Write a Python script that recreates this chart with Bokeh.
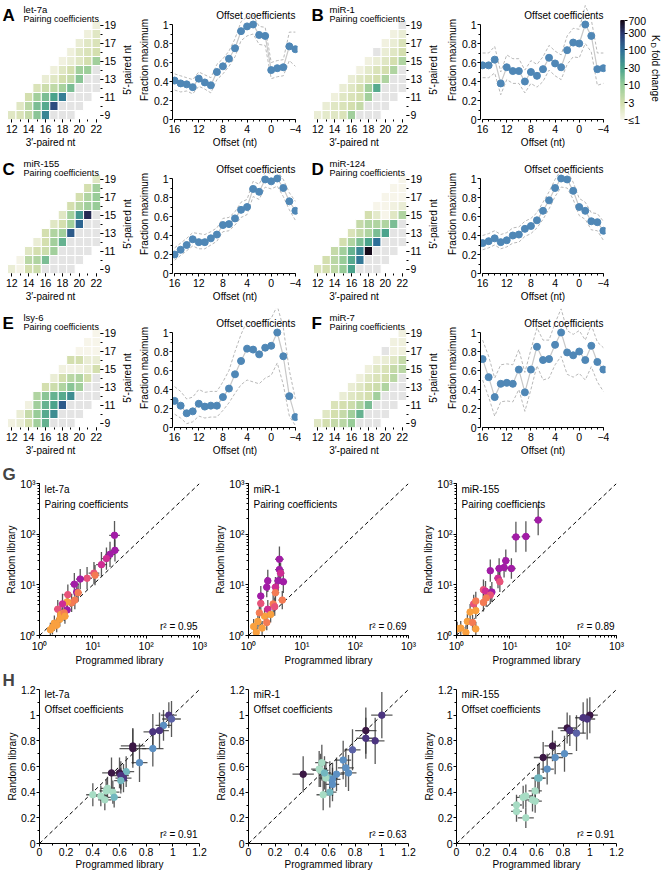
import numpy as np
from bokeh.plotting import figure
from bokeh.layouts import column, row
from bokeh.models import Range1d, FixedTicker, Label, ColumnDataSource, LinearColorMapper
from bokeh.embed import file_html
from bokeh.resources import INLINE

FONT = "Liberation Sans"
FS_TICK = "10.5px"
FS = "10px"
N = None

# ---------------- data ----------------
ROWS_5P = [9, 10, 11, 12, 13, 14, 15, 16, 17, 18, 19]
# each row: KD fold change for 3'-paired nt = row+3, row+4, ... ; None = not measured
PAIR_LET7A = [[2, 2.5, 4, 12, 60, N, N, N], [2, 5, 15, 25, 200, N, N, N], [3, 8, 15, 30, 70, N, N, N],
              [2.5, 3.5, 4.5, 7, 15, N, N, N], [1.5, 2, 3, 4, 12, N, N], [1.3, 2, 3, 8, 9, N],
              [1.2, 1.5, 2, 3, 8], [1.3, 2, 2.5, 3], [1.5, 2, 2.5], [1.3, 2], [1.3]]
PAIR_MIR1 = [[1.5, 1.8, 2, 2.5, 8, N, N, N], [1.5, 2, 2.5, 3, 4, N, N, N], [1.3, 2, 2.5, 3, 8, N, N, N],
             [1.5, 2, 3, 8, 25, N, N, N], [1.5, 2, 2.5, 3, 6, N, N], [1.2, 1.8, 2.5, 3, 6, N],
             [1.2, 1.5, 2, 3, 6], [N, 1.5, 2, 3], [1.2, 1.5, 2.5], [1.2, 1.5], [N]]
PAIR_MIR155 = [[1.5, 1.1, 3, 3.5, N, N, N, N], [1.1, 5, 6, 15, N, N, N, N], [2, 3, 3.5, 8, N, N, N, N],
               [1.5, 3, 8, 20, N, N, N, N], [3, 6, 8, 150, N, N, N], [2, 3, 8, 120, N, N],
               [2, 8, 40, 400, N], [3, 5, 8, 10], [3, 6, 10], [3, 8], [2]]
PAIR_MIR124 = [[2.5, 3, 4.5, 10, 30, N, N, N], [3, 5, 10, 25, 80, N, N, N], [4, 8, 20, 60, 700, N, N, N],
               [3, 6, 15, 30, 100, N, N, N], [2.5, 4, 6, 15, 30, N, N], [4, 6, 6, 6, 15, N],
               [3, 1.8, 1, 2, 6], [1, 1, 1.2, 1.5], [1, 1, 1], [1, 1], [1]]
PAIR_LSY6 = [[1.2, 1.5, 3, 8, 20, N, N, N], [1.5, 4, 10, 25, 50, N, N, N], [1.2, 8, 20, 30, 150, N, N, N],
             [6, 12, 20, 25, 50, N, N, N], [3, 3.5, 6, 12, 8, N, N], [1.5, 3, 5, 6, 3, N],
             [1.2, 1.1, 1.2, 1.5, 3], [3, 3, 1.5, 1.5], [1, 1, 1], [1, 1], [1]]
PAIR_MIR7 = [[2, 3, 4, 5, 10, N, N, N], [2, 3, 4, 8, 20, N, N, N], [2.5, 3, 3.5, 6, 15, N, N, N],
             [1.5, 2, 2.5, 3, 8, N, N, N], [1.5, 2, 3, 3.5, 6, N, N], [1.3, 2, 2.5, 3, 5, N],
             [1.3, 2, 2.5, 4, 5], [1.3, 1.5, 2, 4], [N, 1.2, 1.3], [1.2, 1.3], [1.2]]

OFFSETS = [16, 15, 14, 13, 12, 11, 10, 9, 8, 7, 6, 5, 4, 3, 2, 1, 0, -1, -2, -3, -4]
OFF_LET7A = [0.41, 0.38, 0.37, 0.34, 0.43, 0.39, 0.36, 0.50, 0.56, 0.64, 0.75, 0.93, 0.98, 1.00, 0.89, 0.88, 0.52, 0.54, 0.55, 0.77, 0.74]
OFF_LET7A_HI = [0.48, 0.46, 0.44, 0.42, 0.50, 0.47, 0.44, 0.58, 0.64, 0.72, 0.85, 1.03, 1.08, 1.10, 0.98, 0.97, 0.60, 0.62, 0.63, 0.92, 0.92]
OFF_LET7A_LO = [0.31, 0.29, 0.30, 0.27, 0.35, 0.32, 0.28, 0.42, 0.48, 0.56, 0.66, 0.83, 0.88, 0.90, 0.79, 0.78, 0.43, 0.45, 0.46, 0.62, 0.56]
OFF_MIR1 = [0.57, 0.57, 0.63, 0.38, 0.55, 0.51, 0.51, 0.40, 0.50, 0.46, 0.53, 0.65, 0.59, 0.55, 0.73, 0.81, 0.80, 1.00, 0.88, 0.53, 0.54]
OFF_MIR1_HI = [0.70, 0.70, 0.77, 0.50, 0.68, 0.64, 0.64, 0.52, 0.62, 0.58, 0.66, 0.78, 0.72, 0.68, 0.88, 0.96, 0.95, 1.20, 1.05, 0.70, 0.70]
OFF_MIR1_LO = [0.44, 0.44, 0.49, 0.26, 0.42, 0.38, 0.38, 0.28, 0.38, 0.34, 0.40, 0.52, 0.46, 0.42, 0.58, 0.66, 0.65, 0.80, 0.71, 0.36, 0.38]
OFF_MIR155 = [0.20, 0.25, 0.30, 0.36, 0.33, 0.33, 0.37, 0.41, 0.51, 0.52, 0.58, 0.67, 0.70, 0.89, 0.86, 0.99, 0.97, 1.00, 0.90, 0.76, 0.66]
OFF_MIR155_HI = [0.27, 0.32, 0.37, 0.43, 0.42, 0.41, 0.44, 0.48, 0.58, 0.59, 0.65, 0.75, 0.78, 0.97, 0.94, 1.07, 1.05, 1.08, 0.99, 0.85, 0.76]
OFF_MIR155_LO = [0.14, 0.19, 0.24, 0.29, 0.26, 0.26, 0.30, 0.34, 0.44, 0.45, 0.51, 0.59, 0.62, 0.81, 0.78, 0.91, 0.89, 0.92, 0.81, 0.67, 0.56]
OFF_MIR124 = [0.32, 0.34, 0.37, 0.33, 0.35, 0.40, 0.41, 0.47, 0.50, 0.56, 0.66, 0.77, 0.90, 1.00, 0.99, 0.87, 0.70, 0.66, 0.55, 0.54, 0.45]
OFF_MIR124_HI = [0.40, 0.42, 0.45, 0.41, 0.43, 0.48, 0.49, 0.55, 0.58, 0.64, 0.75, 0.86, 0.99, 1.09, 1.08, 0.96, 0.79, 0.75, 0.64, 0.63, 0.55]
OFF_MIR124_LO = [0.25, 0.27, 0.30, 0.26, 0.28, 0.32, 0.33, 0.39, 0.42, 0.48, 0.57, 0.68, 0.81, 0.91, 0.90, 0.78, 0.61, 0.57, 0.46, 0.45, 0.35]
OFF_LSY6 = [0.28, 0.23, 0.15, 0.17, 0.25, 0.22, 0.23, 0.23, 0.32, 0.41, 0.56, 0.70, 0.83, 0.82, 0.77, 0.84, 0.86, 1.00, 0.75, 0.33, 0.11]
OFF_LSY6_HI = [0.43, 0.38, 0.30, 0.32, 0.40, 0.37, 0.38, 0.38, 0.48, 0.60, 0.80, 0.98, 1.12, 1.10, 1.05, 1.12, 1.15, 1.28, 1.05, 0.60, 0.30]
OFF_LSY6_LO = [0.14, 0.10, 0.04, 0.06, 0.12, 0.10, 0.11, 0.11, 0.18, 0.26, 0.36, 0.45, 0.50, 0.48, 0.46, 0.52, 0.55, 0.68, 0.45, 0.12, 0.02]
OFF_MIR7 = [0.72, 0.53, 0.32, 0.46, 0.47, 0.46, 0.61, 0.37, 0.61, 0.85, 0.71, 0.72, 0.87, 1.00, 0.79, 0.76, 0.80, 0.71, 0.86, 0.69, 0.61]
OFF_MIR7_HI = [0.92, 0.75, 0.52, 0.66, 0.67, 0.66, 0.82, 0.58, 0.82, 1.05, 0.92, 0.92, 1.10, 1.25, 1.02, 0.98, 1.02, 0.92, 1.08, 0.90, 0.84]
OFF_MIR7_LO = [0.50, 0.32, 0.12, 0.27, 0.28, 0.27, 0.40, 0.17, 0.40, 0.65, 0.50, 0.52, 0.66, 0.75, 0.56, 0.53, 0.57, 0.50, 0.64, 0.48, 0.38]

CB_TICKS = [1, 3, 10, 30, 100, 300, 700]

# (programmed, random, x-err in decades, y-err in decades, colour class)
G_LET7A = [(25.5, 95, 0.10, 0.28, 4), (26, 48, 0.08, 0.22, 4), (21, 40, 0.09, 0.25, 4), (18, 33, 0.09, 0.22, 3),
           (14.5, 25, 0.10, 0.25, 3), (10.5, 17, 0.10, 0.22, 2), (11, 15.5, 0.08, 0.2, 1), (7.8, 13.5, 0.09, 0.22, 2),
           (5.8, 13, 0.08, 0.2, 4), (4.5, 10.3, 0.08, 0.22, 4), (5, 7.2, 0.07, 0.2, 4), (5.3, 7, 0.07, 0.18, 1),
           (3.4, 6.4, 0.08, 0.2, 2), (4.0, 4.4, 0.08, 0.18, 1), (3.3, 4.6, 0.07, 0.18, 0), (2.7, 4.2, 0.07, 0.2, 3),
           (4.6, 5.0, 0.07, 0.18, 1), (2.2, 3.3, 0.07, 0.18, 2), (3.3, 3.2, 0.06, 0.16, 4), (2.5, 2.6, 0.06, 0.16, 0),
           (2.9, 2.8, 0.06, 0.16, 1), (2.4, 2.1, 0.06, 0.15, 0), (3.0, 2.4, 0.06, 0.15, 0), (1.9, 1.75, 0.05, 0.15, 0),
           (1.75, 1.45, 0.05, 0.14, 0), (1.6, 1.3, 0.05, 0.14, 0), (2.1, 1.6, 0.05, 0.14, 0)]
G_MIR1 = [(3.8, 32, 0.08, 0.25, 4), (3.8, 20, 0.08, 0.22, 4), (4.0, 17, 0.07, 0.2, 3), (4.5, 11.5, 0.07, 0.22, 4),
          (3.6, 12, 0.07, 0.2, 4), (3.2, 9, 0.07, 0.2, 3), (3.2, 7, 0.07, 0.18, 1), (2.3, 12, 0.06, 0.22, 4),
          (2.2, 9, 0.06, 0.2, 4), (1.7, 6, 0.06, 0.2, 4), (1.7, 4.3, 0.06, 0.18, 2), (2.3, 3.3, 0.06, 0.18, 3),
          (2.9, 4.2, 0.06, 0.18, 1), (3.1, 3.7, 0.06, 0.18, 2), (4.3, 5.0, 0.07, 0.18, 1), (2.0, 2.4, 0.05, 0.16, 0),
          (2.6, 2.6, 0.06, 0.16, 0), (1.5, 1.9, 0.05, 0.16, 0), (1.25, 1.5, 0.05, 0.15, 0), (1.4, 1.15, 0.05, 0.14, 0),
          (1.8, 1.4, 0.05, 0.14, 0), (2.2, 1.8, 0.05, 0.15, 1), (1.6, 2.8, 0.05, 0.16, 1)]
G_MIR155 = [(34, 190, 0.08, 0.3, 4), (20, 90, 0.08, 0.3, 4), (13, 88, 0.08, 0.3, 4), (8.4, 30, 0.07, 0.22, 4),
            (10.7, 21, 0.08, 0.2, 4), (7.8, 22, 0.07, 0.2, 4), (6.3, 21, 0.07, 0.2, 4), (4.3, 19, 0.06, 0.22, 4),
            (6.0, 13.5, 0.07, 0.2, 3), (6.5, 11.5, 0.06, 0.2, 2), (3.2, 8, 0.06, 0.2, 2), (3.5, 7.5, 0.06, 0.2, 3),
            (4.6, 7.2, 0.06, 0.2, 4), (4.3, 6.3, 0.06, 0.18, 2), (3.6, 5.5, 0.06, 0.18, 1), (2.1, 4.2, 0.05, 0.18, 2),
            (2.3, 4.8, 0.05, 0.18, 1), (3.2, 4.5, 0.06, 0.18, 1), (1.8, 2.9, 0.05, 0.16, 0), (2.3, 3.1, 0.05, 0.16, 0),
            (1.6, 1.9, 0.05, 0.15, 0), (2.0, 1.8, 0.05, 0.15, 1), (1.03, 1.35, 0.05, 0.14, 0), (1.2, 1.4, 0.05, 0.14, 0),
            (1.5, 1.15, 0.05, 0.14, 0), (2.3, 1.35, 0.05, 0.14, 0)]

H_LET7A = [(0.97, 1.00, 0.06, 0.10, 4), (0.99, 0.97, 0.07, 0.14, 3), (0.93, 0.92, 0.06, 0.12, 2), (0.90, 0.88, 0.07, 0.14, 4),
           (0.85, 0.87, 0.07, 0.14, 4), (0.85, 0.74, 0.08, 0.14, 2), (0.70, 0.76, 0.09, 0.14, 5), (0.70, 0.74, 0.10, 0.15, 5),
           (0.75, 0.63, 0.06, 0.15, 2), (0.65, 0.56, 0.06, 0.12, 1), (0.54, 0.55, 0.07, 0.12, 5), (0.60, 0.55, 0.08, 0.12, 5),
           (0.61, 0.53, 0.06, 0.11, 4), (0.63, 0.51, 0.06, 0.11, 4), (0.61, 0.49, 0.05, 0.10, 1), (0.51, 0.43, 0.05, 0.09, 0),
           (0.50, 0.41, 0.05, 0.09, 0), (0.55, 0.40, 0.05, 0.09, 0), (0.56, 0.36, 0.05, 0.08, 1), (0.40, 0.38, 0.05, 0.09, 0),
           (0.46, 0.37, 0.05, 0.08, 0), (0.49, 0.34, 0.05, 0.08, 0)]
H_MIR1 = [(1.00, 1.00, 0.08, 0.18, 4), (0.88, 0.88, 0.08, 0.18, 5), (0.88, 0.82, 0.07, 0.16, 4), (0.95, 0.80, 0.07, 0.18, 4),
          (0.78, 0.73, 0.06, 0.16, 3), (0.71, 0.65, 0.06, 0.15, 2), (0.73, 0.59, 0.06, 0.15, 2), (0.75, 0.55, 0.06, 0.14, 2),
          (0.66, 0.54, 0.06, 0.13, 2), (0.41, 0.54, 0.08, 0.14, 5), (0.61, 0.51, 0.06, 0.13, 1), (0.63, 0.50, 0.06, 0.13, 2),
          (0.63, 0.46, 0.05, 0.13, 2), (0.61, 0.40, 0.05, 0.12, 1), (0.56, 0.38, 0.05, 0.12, 0), (0.54, 0.57, 0.06, 0.13, 0),
          (0.53, 0.58, 0.06, 0.14, 0), (0.55, 0.63, 0.05, 0.14, 0), (0.58, 0.51, 0.05, 0.13, 0), (0.57, 0.55, 0.05, 0.13, 1)]
H_MIR155 = [(1.00, 1.00, 0.06, 0.14, 5), (0.98, 0.97, 0.06, 0.16, 4), (0.95, 0.98, 0.06, 0.12, 4), (0.83, 0.90, 0.07, 0.12, 5),
            (0.85, 0.88, 0.07, 0.12, 4), (0.90, 0.86, 0.07, 0.14, 3), (0.72, 0.76, 0.06, 0.12, 5), (0.65, 0.67, 0.07, 0.12, 5),
            (0.81, 0.70, 0.06, 0.14, 2), (0.74, 0.67, 0.06, 0.13, 2), (0.68, 0.58, 0.05, 0.12, 2), (0.62, 0.51, 0.05, 0.12, 1),
            (0.61, 0.51, 0.05, 0.11, 1), (0.59, 0.41, 0.05, 0.10, 0), (0.52, 0.37, 0.05, 0.09, 0), (0.50, 0.36, 0.05, 0.09, 0),
            (0.57, 0.34, 0.05, 0.09, 0), (0.59, 0.33, 0.05, 0.09, 0), (0.45, 0.30, 0.04, 0.08, 0), (0.45, 0.25, 0.04, 0.08, 0),
            (0.52, 0.20, 0.06, 0.08, 0)]

# ---------------- styles ----------------
CB_STOPS = [0, 0.477, 1, 1.477, 2, 2.477, np.log10(700)]
CB_COLORS = ["#f7f5ea", "#d3dfae", "#97cc98", "#4aa38c", "#2e6f98", "#2c3a72", "#150a1a"]
G_COLORS = ["#f9a03f", "#f47b54", "#e8537a", "#cf2d93", "#a21ca6"]
H_COLORS = ["#a7dcc4", "#72b7bf", "#5c90c3", "#5b62a7", "#4c3580", "#3b1845"]


def interp_palette(stops, colors, n=256):
    rgb = np.array([[int(c[i:i + 2], 16) for i in (1, 3, 5)] for c in colors], float)
    out = []
    for t in np.linspace(stops[0], stops[-1], n):
        v = [int(round(np.interp(t, stops, rgb[:, k]))) for k in range(3)]
        out.append("#%02x%02x%02x" % tuple(v))
    return out


PAL = interp_palette(CB_STOPS, CB_COLORS)
MAPPER = LinearColorMapper(palette=PAL, low=0, high=float(np.log10(700)), nan_color="#e4e4e4")


def style_axis(ax, line=True):
    ax.major_label_text_font = FONT
    ax.major_label_text_font_size = FS_TICK
    ax.major_label_text_color = "black"
    ax.axis_label_text_font = FONT
    ax.axis_label_text_font_size = FS
    ax.axis_label_text_font_style = "normal"
    ax.axis_label_text_color = "black"
    ax.major_tick_in = 0
    ax.minor_tick_in = 0
    ax.major_tick_out = 3
    ax.minor_tick_out = 2
    ax.major_label_standoff = 1
    ax.axis_label_standoff = 1
    ax.major_tick_line_color = "black"
    ax.minor_tick_line_color = "black"
    ax.axis_line_color = "black" if line else None


def base_fig(**kw):
    p = figure(output_backend="svg", toolbar_location=None, **kw)
    p.grid.visible = False
    p.outline_line_color = None
    return p


def add_text(p, x, y, text, size=FS, style="normal", align="left", baseline="alphabetic",
             angle=0.0, units="screen", xo=0, yo=0):
    p.add_layout(Label(x=x, y=y, x_units=units, y_units=units, text=text, text_font=FONT,
                       text_font_size=size, text_font_style=style, text_align=align,
                       text_baseline=baseline, angle=angle, text_color="black",
                       x_offset=xo, y_offset=yo))


# every figure of a row gets the same top (0) and bottom (BOT) border, so the
# row alignment of Bokeh does not change any frame
ROW_H = 154
BOT = 35
FH = ROW_H - BOT               # 119 px frame height in the three upper rows
HEAT_W, HEAT_H = 93, 99
CELL = HEAT_W / 11.0


def heat_fig(rows, letter, name, pad, letter_x):
    p = base_fig(width=pad + HEAT_W + 20, height=ROW_H,
                 x_range=Range1d(11.5 - pad / CELL, 22.5),
                 y_range=Range1d(8.5, 8.5 + FH * 11.0 / HEAT_H), y_axis_location="right",
                 min_border_left=0, min_border_right=20, min_border_top=0, min_border_bottom=BOT)
    xs, ys, lv = [], [], []
    for r, vals in zip(ROWS_5P, rows):
        for j, v in enumerate(vals):
            xs.append(r + 3 + j)
            ys.append(r)
            lv.append(np.nan if v is None else float(np.log10(max(v, 1.0))))
    src = ColumnDataSource(dict(x=xs, y=ys, lv=np.array(lv)))
    p.rect("x", "y", 1, 1, source=src, fill_color={"field": "lv", "transform": MAPPER},
           line_color="white", line_width=1)
    p.xaxis.ticker = FixedTicker(ticks=[12, 14, 16, 18, 20, 22], minor_ticks=list(range(12, 23)))
    p.yaxis.ticker = FixedTicker(ticks=[9, 11, 13, 15, 17, 19], minor_ticks=list(range(9, 20)))
    p.xaxis.axis_label = "3\u2032-paired nt"
    for ax in (p.xaxis[0], p.yaxis[0]):
        style_axis(ax, line=False)
    p.xaxis.major_label_standoff = 2
    add_text(p, letter_x, HEAT_H + 5, letter, size="17px", style="bold")
    add_text(p, pad + 16, HEAT_H + 11, name, size="9.5px")
    add_text(p, pad + 16, HEAT_H + 2, "Pairing coefficients", size="9px")
    return p


def plain_fig(w):
    return base_fig(width=w, height=ROW_H, x_range=Range1d(0, 1), y_range=Range1d(0, 1),
                    x_axis_location=None, y_axis_location=None,
                    min_border_left=0, min_border_right=0, min_border_top=0, min_border_bottom=BOT)


def vlabel_fig(text, w=14):
    p = plain_fig(w)
    add_text(p, w / 2.0, HEAT_H / 2.0, text, align="center", baseline="middle", angle=np.pi / 2)
    return p


OFF_W = 125
OFF_PX = 95.0                  # px per unit of "fraction maximum"


def off_fig(vals, lo, hi, left):
    p = base_fig(width=left + OFF_W + 4, height=ROW_H, x_range=Range1d(16.35, -4.35),
                 y_range=Range1d(0, FH / OFF_PX), min_border_left=left, min_border_right=4,
                 min_border_top=0, min_border_bottom=BOT)
    p.line(OFFSETS, lo, line_color="#b8b8b8", line_dash="3 2", line_width=1)
    p.line(OFFSETS, hi, line_color="#b8b8b8", line_dash="3 2", line_width=1)
    p.line(OFFSETS, vals, line_color="#c8c8c8", line_width=1.2)
    p.scatter(OFFSETS, vals, size=7, fill_color="#4f87b6", line_color="#4f87b6")
    p.xaxis.ticker = FixedTicker(ticks=[16, 12, 8, 4, 0, -4], minor_ticks=list(range(-4, 17)))
    p.yaxis.ticker = FixedTicker(ticks=[0, 0.2, 0.4, 0.6, 0.8, 1],
                                 minor_ticks=[0.1, 0.3, 0.5, 0.7, 0.9])
    p.xaxis.major_label_overrides = {-4: "\u22124"}
    p.yaxis.major_label_overrides = {0: "0", 1: "1"}
    p.xaxis.bounds = (-4, 16)
    p.yaxis.bounds = (0, 1)
    p.xaxis.axis_label = "Offset (nt)"
    p.yaxis.axis_label = "Fraction maximum"
    for ax in (p.xaxis[0], p.yaxis[0]):
        style_axis(ax)
    p.xaxis.major_label_standoff = 2
    add_text(p, -4, 1.1, "Offset coefficients", align="right", baseline="middle", units="data")
    return p


def cbar_fig():
    dec = np.log10(700)
    top = 10 ** (dec * FH / HEAT_H)      # bar fills the lower HEAT_H px of the frame
    p = base_fig(width=40, height=ROW_H, x_range=Range1d(0, 1), y_range=Range1d(1, top),
                 y_axis_type="log", y_axis_location="right", min_border_left=11,
                 min_border_right=23, min_border_top=0, min_border_bottom=BOT)
    lv = np.linspace(0, dec, 129)
    cols = [PAL[int(i * 255 / 127)] for i in range(128)]
    p.quad(left=0, right=1, bottom=10 ** lv[:-1], top=10 ** lv[1:], fill_color=cols, line_color=cols)
    p.xaxis.visible = False
    p.yaxis.ticker = FixedTicker(ticks=CB_TICKS)
    p.yaxis.major_label_overrides = {t: ("\u22641" if t == 1 else str(t)) for t in CB_TICKS}
    style_axis(p.yaxis[0], line=False)
    return p


def cbar_title_fig(w=12):
    p = plain_fig(w)
    ang = -np.pi / 2
    y0 = HEAT_H / 2.0 + 35
    add_text(p, w / 2.0, y0, "K", baseline="middle", angle=ang)
    add_text(p, w / 2.0 - 2.5, y0 - 7.5, "D", size="7.5px", baseline="middle", angle=ang)
    add_text(p, w / 2.0, y0 - 15, "fold change", baseline="middle", angle=ang)
    return p


def scatter_fig(pts, kind, name, r2, left, right, height, top, bot, letter=None):
    fw = 160
    fh = height - top - bot
    common = dict(width=left + fw + right, height=height, min_border_left=left,
                  min_border_right=right, min_border_top=top, min_border_bottom=bot)
    if kind == "G":
        p = base_fig(x_axis_type="log", y_axis_type="log", x_range=Range1d(1, 1000),
                     y_range=Range1d(1, 1000), **common)
    else:
        p = base_fig(x_range=Range1d(0, 1.2), y_range=Range1d(0, 1.2), **common)
    x = np.array([q[0] for q in pts], float)
    y = np.array([q[1] for q in pts], float)
    ex = np.array([q[2] for q in pts], float)
    ey = np.array([q[3] for q in pts], float)
    c = [q[4] for q in pts]
    if kind == "G":
        x0, x1, y0, y1 = x / 10 ** ex, x * 10 ** ex, y / 10 ** ey, y * 10 ** ey
        cols = [G_COLORS[k] for k in c]
        lim = (1, 1000)
        sup = {1: "10\u2070", 10: "10\u00b9", 100: "10\u00b2", 1000: "10\u00b3"}
        p.xaxis.major_label_overrides = sup
        p.yaxis.major_label_overrides = sup
        sub = "Pairing coefficients"
    else:
        x0, x1, y0, y1 = x - ex, x + ex, y - ey, y + ey
        cols = [H_COLORS[k] for k in c]
        lim = (0, 1.2)
        tk = FixedTicker(ticks=[0, 0.2, 0.4, 0.6, 0.8, 1, 1.2],
                         minor_ticks=[0.1, 0.3, 0.5, 0.7, 0.9, 1.1])
        p.xaxis.ticker = tk
        p.yaxis.ticker = tk
        p.xaxis.major_label_overrides = {0: "0", 1: "1"}
        p.yaxis.major_label_overrides = {0: "0", 1: "1"}
        sub = "Offset coefficients"
    p.line(list(lim), list(lim), line_color="black", line_dash="4 3", line_width=1)
    p.segment(x0, y, x1, y, line_color="#303030", line_alpha=0.8, line_width=1.3)
    p.segment(x, y0, x, y1, line_color="#303030", line_alpha=0.8, line_width=1.3)
    p.scatter(x, y, size=6.5, fill_color=cols, line_color=cols)
    p.xaxis.axis_label = "Programmed library"
    p.yaxis.axis_label = "Random library"
    for ax in (p.xaxis[0], p.yaxis[0]):
        style_axis(ax)
        ax.axis_label_standoff = 0
    if kind == "G":
        add_text(p, 5, fh - 10, name, baseline="middle")
        add_text(p, 5, fh - 25, sub, baseline="middle")
    else:
        add_text(p, 5, fh - 7, name, baseline="middle")
        add_text(p, 5, fh - 22, sub, baseline="middle")
    add_text(p, lim[1], lim[0], "r\u00b2 = %.2f" % r2, align="right", baseline="middle",
             units="data", xo=-2, yo=9)
    if letter:
        p.title.text = letter
        p.title.align = "left"
        p.title.offset = -left + 2
        p.title.text_font = FONT
        p.title.text_font_size = "17px"
        p.title.text_font_style = "bold"
        p.title.standoff = 0
    return p


r1 = row(heat_fig(PAIR_LET7A, "A", "let-7a", 7, 2), vlabel_fig("5\u2032-paired nt"),
         off_fig(OFF_LET7A, OFF_LET7A_LO, OFF_LET7A_HI, 38),
         heat_fig(PAIR_MIR1, "B", "miR-1", 12, 10), vlabel_fig("5\u2032-paired nt"),
         off_fig(OFF_MIR1, OFF_MIR1_LO, OFF_MIR1_HI, 40),
         cbar_fig(), cbar_title_fig())
r2 = row(heat_fig(PAIR_MIR155, "C", "miR-155", 7, 2), vlabel_fig("5\u2032-paired nt"),
         off_fig(OFF_MIR155, OFF_MIR155_LO, OFF_MIR155_HI, 38),
         heat_fig(PAIR_MIR124, "D", "miR-124", 12, 10), vlabel_fig("5\u2032-paired nt"),
         off_fig(OFF_MIR124, OFF_MIR124_LO, OFF_MIR124_HI, 40))
r3 = row(heat_fig(PAIR_LSY6, "E", "lsy-6", 7, 2), vlabel_fig("5\u2032-paired nt"),
         off_fig(OFF_LSY6, OFF_LSY6_LO, OFF_LSY6_HI, 38),
         heat_fig(PAIR_MIR7, "F", "miR-7", 12, 10), vlabel_fig("5\u2032-paired nt"),
         off_fig(OFF_MIR7, OFF_MIR7_LO, OFF_MIR7_HI, 40))
r4 = row(scatter_fig(G_LET7A, "G", "let-7a", 0.95, 39, 10, 206, 20, 30, "G"),
         scatter_fig(G_MIR1, "G", "miR-1", 0.69, 39, 10, 206, 20, 30),
         scatter_fig(G_MIR155, "G", "miR-155", 0.89, 38, 42, 206, 20, 30))
r5 = row(scatter_fig(H_LET7A, "H", "let-7a", 0.91, 39, 10, 204, 20, 28, "H"),
         scatter_fig(H_MIR1, "H", "miR-1", 0.63, 39, 10, 204, 20, 28),
         scatter_fig(H_MIR155, "H", "miR-155", 0.91, 38, 42, 204, 20, 28))

layout = column(r1, r2, r3, r4, r5)
open("out.html", "w").write(file_html(layout, INLINE))
